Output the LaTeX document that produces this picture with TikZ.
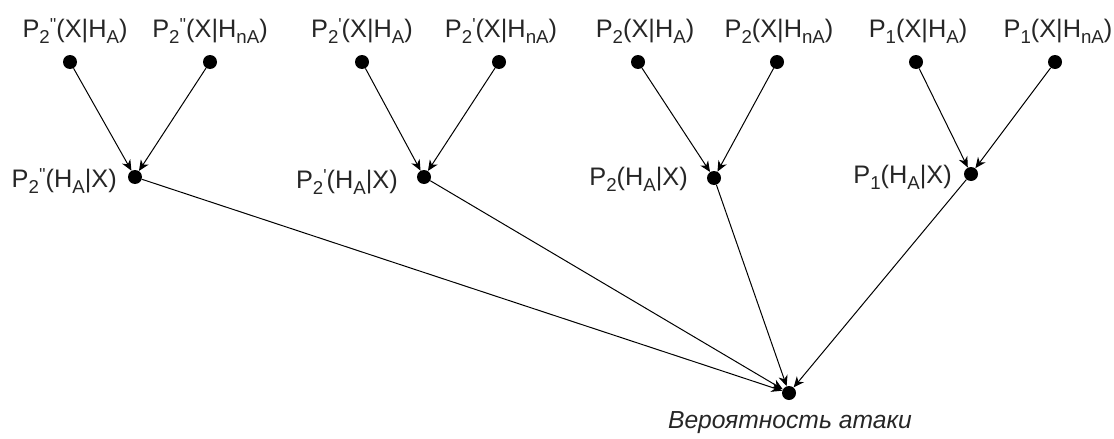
\documentclass[tikz,border=0pt]{standalone}
\usepackage{fontspec}
\setmainfont{Liberation Sans}
\usetikzlibrary{arrows.meta}
\newcommand\qs{\textquotesingle}
\newcommand\sbs[1]{\raisebox{-4.5pt}{\fontsize{14}{14}\selectfont #1}}
\newcommand\sps[1]{\raisebox{5pt}{\fontsize{13}{13}\selectfont #1}}
\newcommand\Pp[2]{P\sbs{#1}\sps{#2}}
\tikzset{
  dot/.style={circle,fill=black,inner sep=0pt,minimum size=10.5pt},
  lbl/.style={inner sep=0pt,text=black!85,font=\fontsize{19}{22}\selectfont},
  arr/.style={-{Stealth[length=8pt,width=7pt,inset=2.5pt]},line width=0.75pt,black}
}
\begin{document}
\begin{tikzpicture}[x=0.75pt,y=-0.75pt]
\useasboundingbox (0,0) rectangle (1114,439);
% dots
\node[dot] (a1) at (70,62) {};
\node[dot] (a2) at (210,62) {};
\node[dot] (am) at (135,177) {};
\node[dot] (b1) at (362,62) {};
\node[dot] (b2) at (499,62) {};
\node[dot] (bm) at (424,177) {};
\node[dot] (c1) at (638,62) {};
\node[dot] (c2) at (777,62) {};
\node[dot] (cm) at (714,178) {};
\node[dot] (d1) at (916,62) {};
\node[dot] (d2) at (1055,62) {};
\node[dot] (dm) at (971,174) {};
\node[dot] (z) at (789,393) {};
% top labels
\node[lbl,anchor=base] (la1) at (75,37) {\Pp{2}{\qs\qs}(X|H\sbs{A})};
\node[lbl,anchor=base] (la2) at (210,37) {\Pp{2}{\qs\qs}(X|H\sbs{nA})};
\node[lbl,anchor=base] (lb1) at (362,37) {\Pp{2}{\qs}(X|H\sbs{A})};
\node[lbl,anchor=base] (lb2) at (501,37) {\Pp{2}{\qs}(X|H\sbs{nA})};
\node[lbl,anchor=base] (lc1) at (645,37) {P\sbs{2}(X|H\sbs{A})};
\node[lbl,anchor=base] (lc2) at (779,37) {P\sbs{2}(X|H\sbs{nA})};
\node[lbl,anchor=base] (ld1) at (918,37) {P\sbs{1}(X|H\sbs{A})};
\node[lbl,anchor=base] (ld2) at (1058,37) {P\sbs{1}(X|H\sbs{nA})};
% middle labels
\node[lbl,anchor=base east] (lam) at (117,187) {\Pp{2}{\qs\qs}(H\sbs{A}|X)};
\node[lbl,anchor=base east] (lbm) at (398,188) {\Pp{2}{\qs}(H\sbs{A}|X)};
\node[lbl,anchor=base east] (lcm) at (688,185) {P\sbs{2}(H\sbs{A}|X)};
\node[lbl,anchor=base east] (ldm) at (952,183) {P\sbs{1}(H\sbs{A}|X)};
% bottom label
\node[lbl,anchor=base,font=\fontsize{18.5}{21}\selectfont\itshape] (lz) at (790,428) {Вероятность атаки};
% connectors
\draw[arr] (a1) -- (am);
\draw[arr] (a2) -- (am);
\draw[arr] (b1) -- (bm);
\draw[arr] (b2) -- (bm);
\draw[arr] (c1) -- (cm);
\draw[arr] (c2) -- (cm);
\draw[arr] (d1) -- (dm);
\draw[arr] (d2) -- (dm);
\draw[arr] (am) -- (z);
\draw[arr] (bm) -- (z);
\draw[arr] (cm) -- (z);
\draw[arr] (dm) -- (z);
\end{tikzpicture}
\end{document}
